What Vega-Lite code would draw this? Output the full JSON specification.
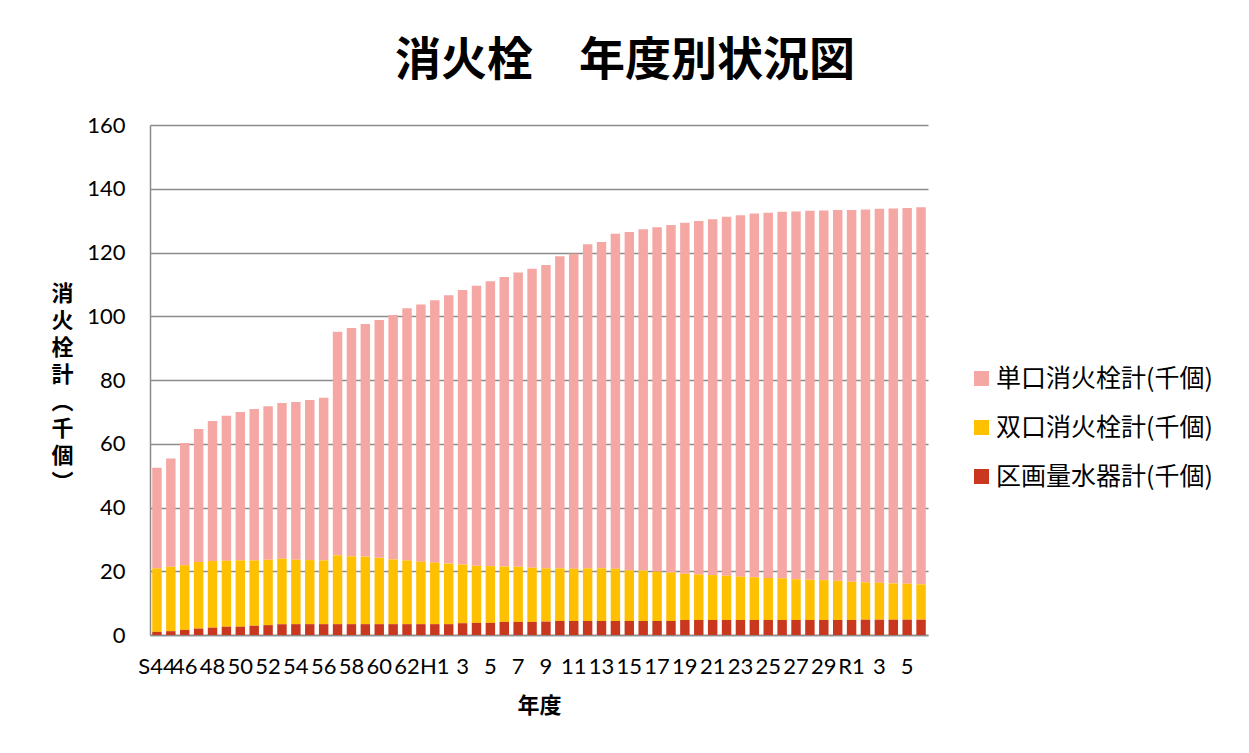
{
  "$schema": "https://vega.github.io/schema/vega-lite/v6.json",
  "width": 778,
  "height": 510,
  "autosize": {"type": "none"},
  "padding": {"left": 150, "top": 125, "right": 321, "bottom": 118},
  "background": "white",
  "title": {
    "text": "消火栓　年度別状況図",
    "font": "Noto Sans CJK JP",
    "fontSize": 46,
    "fontWeight": "bold",
    "color": "black",
    "anchor": "middle",
    "frame": "group",
    "dx": 86,
    "offset": 29
  },
  "datasets": {
    "main": [
      {"年度": "S44", "単口消火栓計(千個)": 31.6, "双口消火栓計(千個)": 19.9, "区画量水器計(千個)": 1.0},
      {"年度": "S45", "単口消火栓計(千個)": 34.0, "双口消火栓計(千個)": 20.2, "区画量水器計(千個)": 1.2},
      {"年度": "S46", "単口消火栓計(千個)": 38.3, "双口消火栓計(千個)": 20.3, "区画量水器計(千個)": 1.6},
      {"年度": "S47", "単口消火栓計(千個)": 41.7, "双口消火栓計(千個)": 20.9, "区画量水器計(千個)": 2.0},
      {"年度": "S48", "単口消火栓計(千個)": 43.9, "双口消火栓計(千個)": 20.9, "区画量水器計(千個)": 2.3},
      {"年度": "S49", "単口消火栓計(千個)": 45.5, "双口消火栓計(千個)": 20.7, "区画量水器計(千個)": 2.6},
      {"年度": "S50", "単口消火栓計(千個)": 46.6, "双口消火栓計(千個)": 20.8, "区画量水器計(千個)": 2.6},
      {"年度": "S51", "単口消火栓計(千個)": 47.5, "双口消火栓計(千個)": 20.5, "区画量水器計(千個)": 2.9},
      {"年度": "S52", "単口消火栓計(千個)": 48.2, "双口消火栓計(千個)": 20.5, "区画量水器計(千個)": 3.1},
      {"年度": "S53", "単口消火栓計(千個)": 48.9, "双口消火栓計(千個)": 20.5, "区画量水器計(千個)": 3.4},
      {"年度": "S54", "単口消火栓計(千個)": 49.5, "双口消火栓計(千個)": 20.2, "区画量水器計(千個)": 3.4},
      {"年度": "S55", "単口消火栓計(千個)": 50.2, "双口消火栓計(千個)": 20.1, "区画量水器計(千個)": 3.4},
      {"年度": "S56", "単口消火栓計(千個)": 51.0, "双口消火栓計(千個)": 20.0, "区画量水器計(千個)": 3.4},
      {"年度": "S57", "単口消火栓計(千個)": 70.1, "双口消火栓計(千個)": 21.6, "区画量水器計(千個)": 3.4},
      {"年度": "S58", "単口消火栓計(千個)": 71.6, "双口消火栓計(千個)": 21.3, "区画量水器計(千個)": 3.4},
      {"年度": "S59", "単口消火栓計(千個)": 73.0, "双口消火栓計(千個)": 21.2, "区画量水器計(千個)": 3.4},
      {"年度": "S60", "単口消火栓計(千個)": 74.6, "双口消火栓計(千個)": 20.8, "区画量水器計(千個)": 3.4},
      {"年度": "S61", "単口消火栓計(千個)": 76.7, "双口消火栓計(千個)": 20.3, "区画量水器計(千個)": 3.4},
      {"年度": "S62", "単口消火栓計(千個)": 79.1, "双口消火栓計(千個)": 20.0, "区画量水器計(千個)": 3.4},
      {"年度": "S63", "単口消火栓計(千個)": 80.7, "双口消火栓計(千個)": 19.6, "区画量水器計(千個)": 3.4},
      {"年度": "H1", "単口消火栓計(千個)": 82.3, "双口消火栓計(千個)": 19.3, "区画量水器計(千個)": 3.4},
      {"年度": "H2", "単口消火栓計(千個)": 84.2, "双口消火栓計(千個)": 19.0, "区画量水器計(千個)": 3.4},
      {"年度": "H3", "単口消火栓計(千個)": 86.1, "双口消火栓計(千個)": 18.4, "区画量水器計(千個)": 3.7},
      {"年度": "H4", "単口消火栓計(千個)": 87.9, "双口消火栓計(千個)": 17.9, "区画量水器計(千個)": 3.8},
      {"年度": "H5", "単口消火栓計(千個)": 89.4, "双口消火栓計(千個)": 17.8, "区画量水器計(千個)": 3.8},
      {"年度": "H6", "単口消火栓計(千個)": 90.8, "双口消火栓計(千個)": 17.4, "区画量水器計(千個)": 4.1},
      {"年度": "H7", "単口消火栓計(千個)": 92.3, "双口消火栓計(千個)": 17.3, "区画量水器計(千個)": 4.1},
      {"年度": "H8", "単口消火栓計(千個)": 93.8, "双口消火栓計(千個)": 17.0, "区画量水器計(千個)": 4.1},
      {"年度": "H9", "単口消火栓計(千個)": 95.2, "双口消火栓計(千個)": 16.7, "区画量水器計(千個)": 4.2},
      {"年度": "H10", "単口消火栓計(千個)": 97.9, "双口消火栓計(千個)": 16.5, "区画量水器計(千個)": 4.4},
      {"年度": "H11", "単口消火栓計(千個)": 98.8, "双口消火栓計(千個)": 16.4, "区画量水器計(千個)": 4.4},
      {"年度": "H12", "単口消火栓計(千個)": 101.7, "双口消火栓計(千個)": 16.5, "区画量水器計(千個)": 4.4},
      {"年度": "H13", "単口消火栓計(千個)": 102.4, "双口消火栓計(千個)": 16.5, "区画量水器計(千個)": 4.4},
      {"年度": "H14", "単口消火栓計(千個)": 105.1, "双口消火栓計(千個)": 16.4, "区画量水器計(千個)": 4.4},
      {"年度": "H15", "単口消火栓計(千個)": 106.1, "双口消火栓計(千個)": 15.9, "区画量水器計(千個)": 4.4},
      {"年度": "H16", "単口消火栓計(千個)": 107.1, "双口消火栓計(千個)": 15.8, "区画量水器計(千個)": 4.4},
      {"年度": "H17", "単口消火栓計(千個)": 108.0, "双口消火栓計(千個)": 15.5, "区画量水器計(千個)": 4.4},
      {"年度": "H18", "単口消火栓計(千個)": 109.0, "双口消火栓計(千個)": 15.2, "区画量水器計(千個)": 4.4},
      {"年度": "H19", "単口消火栓計(千個)": 110.1, "双口消火栓計(千個)": 14.5, "区画量水器計(千個)": 4.7},
      {"年度": "H20", "単口消火栓計(千個)": 110.9, "双口消火栓計(千個)": 14.3, "区画量水器計(千個)": 4.7},
      {"年度": "H21", "単口消火栓計(千個)": 111.6, "双口消火栓計(千個)": 14.1, "区画量水器計(千個)": 4.7},
      {"年度": "H22", "単口消火栓計(千個)": 112.6, "双口消火栓計(千個)": 13.9, "区画量水器計(千個)": 4.7},
      {"年度": "H23", "単口消火栓計(千個)": 113.4, "双口消火栓計(千個)": 13.6, "区画量水器計(千個)": 4.7},
      {"年度": "H24", "単口消火栓計(千個)": 114.1, "双口消火栓計(千個)": 13.4, "区画量水器計(千個)": 4.7},
      {"年度": "H25", "単口消火栓計(千個)": 114.6, "双口消火栓計(千個)": 13.2, "区画量水器計(千個)": 4.7},
      {"年度": "H26", "単口消火栓計(千個)": 115.0, "双口消火栓計(千個)": 13.1, "区画量水器計(千個)": 4.7},
      {"年度": "H27", "単口消火栓計(千個)": 115.4, "双口消火栓計(千個)": 12.8, "区画量水器計(千個)": 4.7},
      {"年度": "H28", "単口消火栓計(千個)": 115.8, "双口消火栓計(千個)": 12.6, "区画量水器計(千個)": 4.7},
      {"年度": "H29", "単口消火栓計(千個)": 116.0, "双口消火栓計(千個)": 12.5, "区画量水器計(千個)": 4.7},
      {"年度": "H30", "単口消火栓計(千個)": 116.3, "双口消火栓計(千個)": 12.3, "区画量水器計(千個)": 4.7},
      {"年度": "R1", "単口消火栓計(千個)": 116.6, "双口消火栓計(千個)": 12.0, "区画量水器計(千個)": 4.7},
      {"年度": "R2", "単口消火栓計(千個)": 117.0, "双口消火栓計(千個)": 11.7, "区画量水器計(千個)": 4.8},
      {"年度": "R3", "単口消火栓計(千個)": 117.3, "双口消火栓計(千個)": 11.6, "区画量水器計(千個)": 4.8},
      {"年度": "R4", "単口消火栓計(千個)": 117.6, "双口消火栓計(千個)": 11.4, "区画量水器計(千個)": 4.8},
      {"年度": "R5", "単口消火栓計(千個)": 117.9, "双口消火栓計(千個)": 11.3, "区画量水器計(千個)": 4.8},
      {"年度": "R6", "単口消火栓計(千個)": 118.3, "双口消火栓計(千個)": 11.1, "区画量水器計(千個)": 4.8}
    ],
    "stackorder": [
      {"key": "区画量水器計(千個)", "rank": 1},
      {"key": "双口消火栓計(千個)", "rank": 2},
      {"key": "単口消火栓計(千個)", "rank": 3}
    ]
  },
  "data": {"name": "main"},
  "transform": [
    {"fold": ["単口消火栓計(千個)", "双口消火栓計(千個)", "区画量水器計(千個)"], "as": ["key", "value"]},
    {"lookup": "key", "from": {"data": {"name": "stackorder"}, "key": "key", "fields": ["rank"]}}
  ],
  "mark": {"type": "bar"},
  "encoding": {
    "x": {
      "field": "年度",
      "type": "nominal",
      "sort": null,
      "scale": {"paddingInner": 0.32, "paddingOuter": 0.16},
      "axis": {
        "title": "年度",
        "values": ["S44", "S46", "S48", "S50", "S52", "S54", "S56", "S58", "S60", "S62", "H1", "H3", "H5", "H7", "H9", "H11", "H13", "H15", "H17", "H19", "H21", "H23", "H25", "H27", "H29", "R1", "R3", "R5"],
        "labelExpr": "(datum.value == 'S44' || datum.value == 'H1' || datum.value == 'R1') ? datum.value : slice(datum.value, 1)",
        "labelAngle": 0,
        "labelOverlap": false,
        "labelFont": "Lato",
        "labelFontSize": 22,
        "labelColor": "black",
        "labelBaseline": "top",
        "labelPadding": 21,
        "ticks": false,
        "tickSize": 0,
        "domainColor": "#8C8C8C",
        "domainWidth": 1.5,
        "titleFont": "Noto Sans CJK JP",
        "titleFontSize": 22,
        "titleFontWeight": "bold",
        "titleColor": "black",
        "titleBaseline": "top",
        "titleY": 60
      }
    },
    "y": {
      "field": "value",
      "type": "quantitative",
      "stack": "zero",
      "scale": {"domain": [0, 160], "nice": false},
      "axis": {
        "values": [0, 20, 40, 60, 80, 100, 120, 140, 160],
        "labelFont": "Lato",
        "labelFontSize": 22,
        "labelColor": "black",
        "labelPadding": 25,
        "ticks": false,
        "tickSize": 0,
        "grid": true,
        "gridColor": "#8C8C8C",
        "gridWidth": 1.5,
        "domainColor": "#8C8C8C",
        "domainWidth": 1.5,
        "title": ["消", "火", "栓", "計", "︵", "千", "個", "︶"],
        "titleAngle": 0,
        "titleAlign": "center",
        "titleBaseline": "top",
        "titleX": -88,
        "titleY": 158,
        "titleLineHeight": 27,
        "titleFont": "Noto Sans CJK JP",
        "titleFontSize": 22,
        "titleFontWeight": "bold",
        "titleColor": "black"
      }
    },
    "color": {
      "field": "key",
      "type": "nominal",
      "scale": {
        "domain": ["単口消火栓計(千個)", "双口消火栓計(千個)", "区画量水器計(千個)"],
        "range": ["#F5A7A3", "#FFC000", "#C8371E"]
      },
      "legend": {
        "orient": "none",
        "legendX": 819,
        "legendY": 241,
        "title": null,
        "padding": 0,
        "symbolType": "square",
        "symbolSize": 225,
        "symbolStrokeWidth": 0,
        "labelFont": "Noto Sans CJK JP",
        "labelFontSize": 25,
        "labelColor": "black",
        "labelLimit": 400,
        "labelOffset": 2,
        "rowPadding": 23
      }
    },
    "order": {"field": "rank", "type": "quantitative", "sort": "ascending"}
  },
  "config": {"view": {"stroke": null}}
}
